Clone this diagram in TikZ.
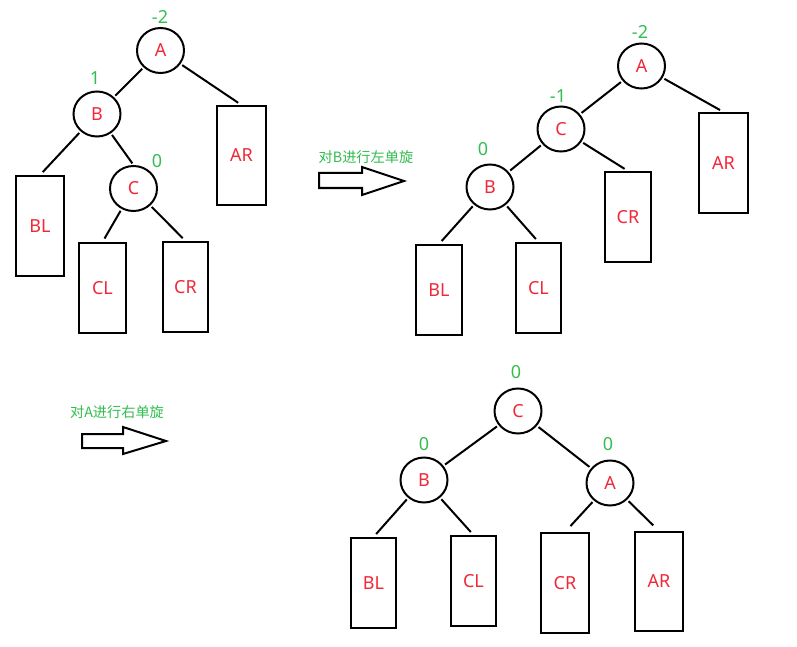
\documentclass[tikz,border=0pt]{standalone}
\usepackage{fontspec}
\setmainfont{Noto Sans}
\newfontfamily\cjk{Noto Sans CJK SC}
\usetikzlibrary{shapes.geometric}
\definecolor{lblred}{RGB}{240,40,56}
\definecolor{lblgreen}{RGB}{50,190,80}
\tikzset{
  bnode/.style={ellipse, draw, line width=2pt, minimum width=47pt, minimum height=45pt,
    inner sep=0pt, text=lblred, font=\fontsize{18}{18}\selectfont},
  leaf/.style={rectangle, draw, line width=2pt, inner sep=0pt, text=lblred,
    font=\fontsize{18}{18}\selectfont},
  bal/.style={text=lblgreen, inner sep=0pt, font=\fontsize{18}{18}\selectfont},
  note/.style={text=lblgreen, inner sep=0pt, font=\cjk\fontsize{14.2}{14.2}\selectfont},
  edge/.style={line width=2pt, shorten <=2pt, shorten >=2pt},
  ledge/.style={line width=2pt, shorten <=2pt, shorten >=4pt},
  bigarrow/.style={line width=2pt, fill=white, line join=miter}
}
\begin{document}
\begin{tikzpicture}[x=1pt,y=-1pt]
\useasboundingbox (0,0) rectangle (797,647);
\fill[white] (0,0) rectangle (797,647);

% ---------- tree 1 ----------
\node[bnode] (a1) at (160.5,50.5) {A};
\node[bnode] (b1) at (97,114) {B};
\node[bnode] (c1) at (133.5,188.5) {C};
\node[leaf, minimum width=49pt, minimum height=99pt] (ar1) at (241.5,155.5) {AR};
\node[leaf, minimum width=48pt, minimum height=100pt] (bl1) at (40,226) {BL};
\node[leaf, minimum width=47pt, minimum height=90pt] (cl1) at (102.5,288) {CL};
\node[leaf, minimum width=45pt, minimum height=90pt] (cr1) at (185.5,287) {CR};
\node[bal] (na1) at (160,17) {-2};
\node[bal] (nb1) at (95,78) {1};
\node[bal] (nc1) at (157,161) {0};
\draw[edge] (a1) -- (b1);
\draw[ledge] (a1) -- (ar1.north);
\draw[ledge] (b1) -- (bl1.north);
\draw[edge] (b1) -- (c1.north);
\draw[ledge] (c1) -- (cl1.north);
\draw[ledge] (c1) -- (cr1.north);

% ---------- arrow 1 ----------
\node[note] (t1) at (366,157) {对B进行左单旋};
\draw[bigarrow] (319,173) -- (362,173) -- (362,167) -- (404,181) -- (362,195) -- (362,188) -- (319,188) -- cycle;

% ---------- tree 2 ----------
\node[bnode] (a2) at (641.5,66) {A};
\node[bnode] (c2) at (561,129) {C};
\node[bnode] (b2) at (490,187) {B};
\node[leaf, minimum width=49pt, minimum height=100pt] (ar2) at (723.5,163) {AR};
\node[leaf, minimum width=46pt, minimum height=90pt] (cr2) at (628,217) {CR};
\node[leaf, minimum width=46pt, minimum height=90pt] (bl2) at (439,290) {BL};
\node[leaf, minimum width=45pt, minimum height=90pt] (cl2) at (538.5,288) {CL};
\node[bal] (na2) at (640,32) {-2};
\node[bal] (nc2) at (558,96) {-1};
\node[bal] (nb2) at (483,149) {0};
\draw[edge] (a2) -- (c2);
\draw[ledge] (a2) -- (ar2.north);
\draw[edge] (c2) -- (b2);
\draw[ledge] (c2) -- (cr2.north);
\draw[ledge] (b2) -- (bl2.north);
\draw[ledge] (b2) -- (cl2.north);

% ---------- arrow 2 ----------
\node[note] (t2) at (117,412) {对A进行右单旋};
\draw[bigarrow] (82,434) -- (123,434) -- (123,427) -- (166,441) -- (123,454) -- (123,448) -- (82,448) -- cycle;

% ---------- tree 3 ----------
\node[bnode] (c3) at (518,411) {C};
\node[bnode] (b3) at (424,480) {B};
\node[bnode] (a3) at (610,483) {A};
\node[leaf, minimum width=45pt, minimum height=90pt] (bl3) at (373.5,583) {BL};
\node[leaf, minimum width=45pt, minimum height=90pt] (cl3) at (473.5,581) {CL};
\node[leaf, minimum width=48pt, minimum height=100pt] (cr3) at (565,583) {CR};
\node[leaf, minimum width=48pt, minimum height=99pt] (ar3) at (659,581.5) {AR};
\node[bal] (nc3) at (516,372) {0};
\node[bal] (nb3) at (424,444) {0};
\node[bal] (na3) at (608,444) {0};
\draw[edge] (c3) -- (b3);
\draw[edge] (c3) -- (a3);
\draw[ledge] (b3) -- (bl3.north);
\draw[ledge] (b3) -- (cl3.north);
\draw[line width=2pt, shorten <=2pt, shorten >=8pt] (a3) -- (cr3.north);
\draw[line width=2pt, shorten <=2pt, shorten >=8pt] (a3) -- (ar3.north);
\end{tikzpicture}
\end{document}
